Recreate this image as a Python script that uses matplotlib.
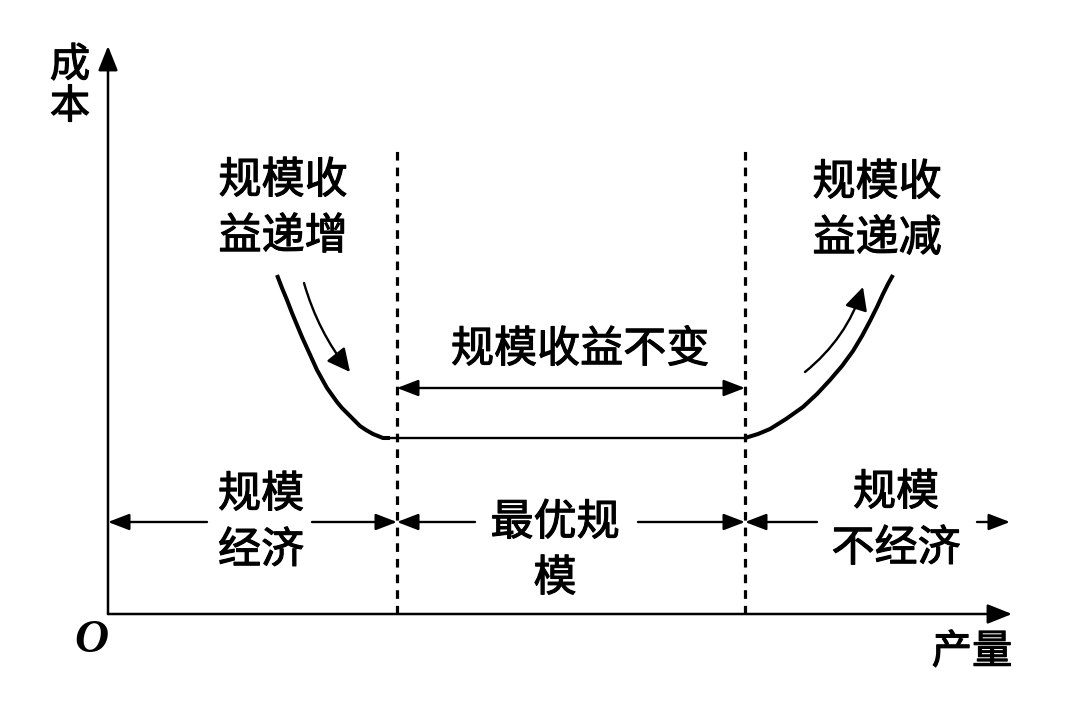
import matplotlib
matplotlib.use("Agg")
import matplotlib.pyplot as plt
import matplotlib.patheffects as pe
from matplotlib.patches import FancyArrowPatch

plt.rcParams['font.family'] = ['Noto Sans CJK SC', 'DejaVu Sans']

# 坐标: 横轴产量, 纵轴成本 (原点在坐标轴交点)
x_end, y_end = 904, 568
bounds = [289, 637]          # 两条虚线的位置
dash_top = 464
flat_cost = 176

left_q = [169, 174, 179, 184, 189, 194, 199, 204, 209, 214, 219, 224, 229, 234, 239, 245,
          252, 258, 265, 270, 275, 282]
left_c = [339, 326, 314, 301, 289, 277, 266, 255, 244, 235, 226, 219, 212, 206, 201, 195,
          188, 184, 180, 178, 176, 176]
flat_q = [280, 637]
flat_c = [flat_cost, flat_cost]
right_q = [637, 650, 662, 678, 695, 709, 722, 734, 745, 754, 762, 769, 775, 780, 785]
right_c = [176, 180, 185, 195, 207, 220, 234, 248, 263, 278, 293, 307, 320, 330, 339]

# 小箭头 (起点, 终点)
down_arrow = [(196, 331), (242, 242)]
up_arrow = [(697, 242), (755, 327)]

label_inc = "规模收\n益递增"
label_dec = "规模收\n益递减"
label_const = "规模收益不变"
label_econ = "规模\n经济"
label_opt = "最优规\n模"
label_dis = "规模\n不经济"

fig = plt.figure(figsize=(10.79, 7.2), dpi=100)
ax = fig.add_axes([0, 0, 1, 1])
ax.set_xlim(-108, 971)
ax.set_ylim(-106, 614)
ax.axis('off')

def arrow(p0, p1, style='-|>', lw=1.5, rad=0.0, hl=0.6, hw=0.25):
    a = FancyArrowPatch(p0, p1, arrowstyle=f"{style},head_length={hl},head_width={hw}",
                        connectionstyle=f"arc3,rad={rad}", mutation_scale=20,
                        lw=lw, color='black', shrinkA=0, shrinkB=0)
    ax.add_patch(a)

# 坐标轴
arrow((0, 0), (x_end, 0), lw=1.8, hl=0.75, hw=0.3)
arrow((0, 0), (0, y_end), lw=1.8, hl=0.75, hw=0.3)

# 虚线
for b in bounds:
    ax.plot([b, b], [0, dash_top], color='black', lw=2.3, linestyle=(0, (2.7, 2.2)))

# 成本曲线
ax.plot(left_q, left_c, color='black', lw=2.9, solid_capstyle='butt', solid_joinstyle='round')
ax.plot(flat_q, flat_c, color='black', lw=1.7)
ax.plot(right_q, right_c, color='black', lw=2.9, solid_capstyle='butt', solid_joinstyle='round')

arrow(down_arrow[0], down_arrow[1], lw=1.7, rad=0.1, hl=0.7, hw=0.35)
arrow(up_arrow[0], up_arrow[1], lw=1.7, rad=0.15, hl=0.7, hw=0.35)

# 规模收益不变 双箭头
arrow((bounds[0], 226), (bounds[1], 226), style='<|-|>', lw=1.7, hl=0.65, hw=0.25)

# 底部区间箭头
ybot = 92
arrow((99, ybot), (0, ybot), lw=1.7, hl=0.65, hw=0.25)
arrow((204, ybot), (bounds[0], ybot), lw=1.7, hl=0.65, hw=0.25)
arrow((367, ybot), (bounds[0], ybot), lw=1.7, hl=0.65, hw=0.25)
arrow((530, ybot), (bounds[1], ybot), lw=1.7, hl=0.65, hw=0.25)
arrow((709, ybot), (bounds[1], ybot), lw=1.7, hl=0.65, hw=0.25)
arrow((869, ybot), (902, ybot), lw=1.7, hl=0.65, hw=0.25)

# 加粗效果 (介于常规与粗体之间)
thick = [pe.withStroke(linewidth=0.8, foreground='black')]

fs = 31
kw = dict(fontsize=fs, ha='center', va='center', linespacing=1.35, path_effects=thick)
ax.text(175, 405, label_inc, **kw)
ax.text(769, 403, label_dec, **kw)
ax.text(472, 264, label_const, **kw)
ax.text(153, 91, label_econ, **kw)
ax.text(447, 63, label_opt, **kw)
ax.text(788, 93, label_dis, **kw)

ax.text(-38, 528, "成\n本", fontsize=29, ha='center', va='center', linespacing=1.02,
        path_effects=thick)
ax.text(864, -38, "产量", fontsize=29, ha='center', va='center', path_effects=thick)
ax.text(-17, -27, "O", fontsize=34, ha='center', va='center', family='Liberation Serif',
        style='italic', fontweight='bold')

fig.savefig("out.png", dpi=100)
